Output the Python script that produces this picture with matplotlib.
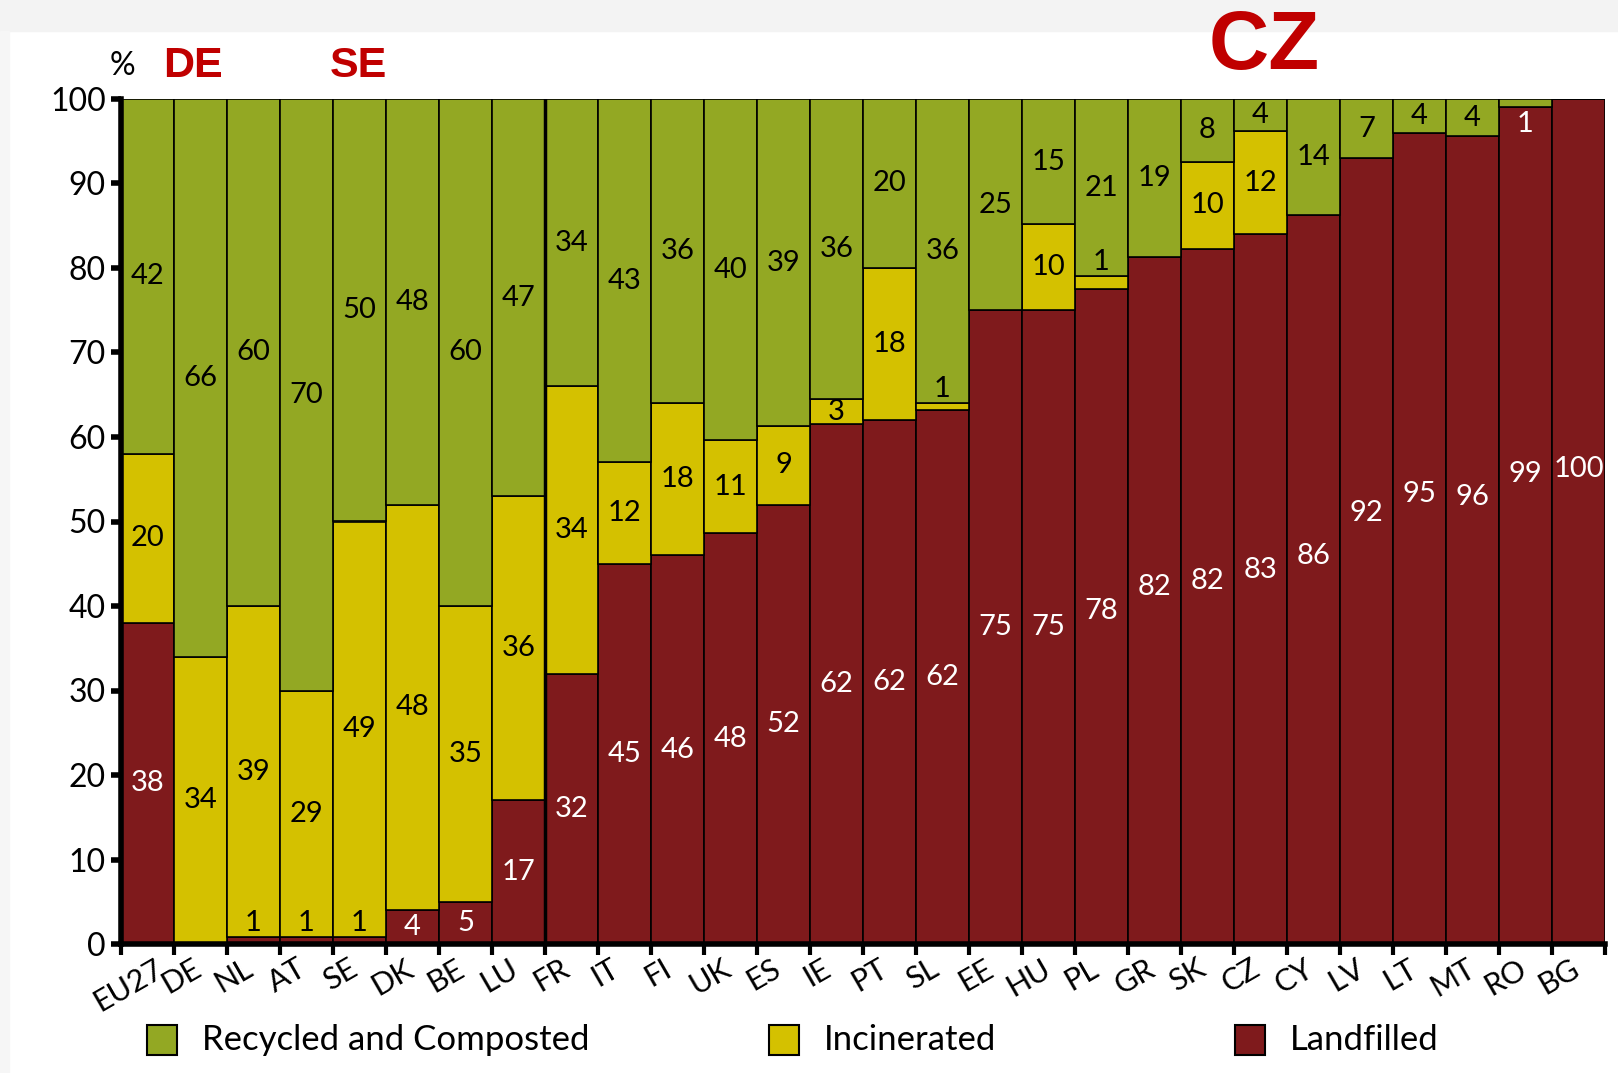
import numpy as np
import matplotlib
matplotlib.use("Agg")
import matplotlib.pyplot as plt
from matplotlib.patches import Rectangle

plt.rcParams['font.family'] = ['Lato', 'DejaVu Sans']

countries = ["EU27", "DE", "NL", "AT", "SE", "DK", "BE", "LU", "FR", "IT", "FI", "UK", "ES", "IE",
             "PT", "SL", "EE", "HU", "PL", "GR", "SK", "CZ", "CY", "LV", "LT", "MT", "RO", "BG"]

# segment heights (bottom to top)
landfilled = [38, 0, 0.8, 0.8, 0.8, 4, 5, 17, 32, 45, 46, 48.6, 52, 61.5,
              62, 63.2, 75, 75, 77.5, 81.3, 82.3, 84, 86.3, 93, 96, 95.6, 99.1, 100]
incinerated = [20, 34, 39.2, 29.2, 49.2, 48, 35, 36, 34, 12, 18, 11, 9.3, 3,
               18, 0.8, 0, 10.2, 1.5, 0, 10.3, 12.2, 0, 0, 0, 0, 0, 0]
recycled = [42, 66, 60, 70, 50, 48, 60, 47, 34, 43, 36, 40.4, 38.7, 35.5,
            20, 36, 25, 14.8, 21, 18.7, 7.4, 3.8, 13.7, 7, 4, 4.4, 0.9, 0]

# printed labels (as in the source chart)
land_lab = ["38", "", "1", "1", "1", "4", "5", "17", "32", "45", "46", "48", "52", "62",
            "62", "62", "75", "75", "78", "82", "82", "83", "86", "92", "95", "96", "99", "100"]
inc_lab = ["20", "34", "39", "29", "49", "48", "35", "36", "34", "12", "18", "11", "9", "3",
           "18", "1", "", "10", "1", "", "10", "12", "", "", "", "", "", ""]
rec_lab = ["42", "66", "60", "70", "50", "48", "60", "47", "34", "43", "36", "40", "39", "36",
           "20", "36", "25", "15", "21", "19", "8", "4", "14", "7", "4", "4", "1", ""]

series = ["Recycled and Composted", "Incinerated", "Landfilled"]
colors = ["#93a823", "#d4c100", "#7f1a1c"]

fig = plt.figure(figsize=(16.18, 10.73), dpi=100)
fig.patches.append(Rectangle((0, 1 - 31 / 1073), 1, 31 / 1073, transform=fig.transFigure,
                             color="#f3f3f3", zorder=0))
fig.patches.append(Rectangle((0, 0), 9 / 1618, 1 - 31 / 1073, transform=fig.transFigure,
                             color="#f6f6f6", zorder=0))

ax = fig.add_axes([121 / 1618, 1 - 944 / 1073, 1484 / 1618, 845 / 1073])
x = np.arange(len(countries))
land = np.array(landfilled)
inc = np.array(incinerated)
rec = np.array(recycled)

ax.bar(x, land, width=1, color=colors[2], edgecolor="black", linewidth=1.2)
ax.bar(x, inc, width=1, bottom=land, color=colors[1], edgecolor="black", linewidth=1.2)
ax.bar(x, rec, width=1, bottom=land + inc, color=colors[0], edgecolor="black", linewidth=1.2)

fs = 21
for i in range(len(countries)):
    segs = [(land[i], 0, land_lab[i], "white"),
            (inc[i], land[i], inc_lab[i], "black"),
            (rec[i], land[i] + inc[i], rec_lab[i], "black")]
    for k, (h, b, lab, c) in enumerate(segs):
        if lab == "":
            continue
        if h >= 3:
            yc = b + h / 2
            # the source nudges labels of tall landfill bars upwards
            if k == 0 and h > 75:
                yc += (h - 75) * 0.25
            ax.text(i, yc, lab, ha="center", va="center", color=c, fontsize=fs)
        elif k == 2:
            # tiny top segment: label inside the bar below
            ax.text(i, b - 0.5, lab, ha="center", va="top", color="white", fontsize=fs)
        else:
            ax.text(i, b + h + 0.2, lab, ha="center", va="bottom", color="black", fontsize=fs)

ax.axvline(7.5, color="black", linewidth=2.5)

ax.set_xlim(-0.5, len(countries) - 0.5)
ax.set_ylim(0, 100)
ax.set_yticks(np.arange(0, 101, 10))
ax.tick_params(axis="y", labelsize=23, width=4, length=7, pad=4)
ax.set_xticks(x - 0.5, minor=False)
ax.set_xticks([len(countries) - 0.5], minor=True)
ax.set_xticklabels([])
ax.tick_params(axis="x", which="both", width=3, length=8)
for i, c in enumerate(countries):
    ax.text(i - 0.37, -1.2, c, rotation=30, ha="center", va="top", fontsize=22)

for s in ["top", "right"]:
    ax.spines[s].set_visible(False)
ax.spines["left"].set_linewidth(4)
ax.spines["bottom"].set_linewidth(4)

fig.text(122 / 1618, 1 - 66 / 1073, "%", ha="center", va="center", fontsize=23)
fig.text(193 / 1618, 1 - 66 / 1073, "DE", ha="center", va="center", fontsize=31,
         fontweight="bold", color="#c00000", family="Liberation Sans")
fig.text(358 / 1618, 1 - 66 / 1073, "SE", ha="center", va="center", fontsize=31,
         fontweight="bold", color="#c00000", family="Liberation Sans")
fig.text(1264 / 1618, 1 - 47 / 1073, "CZ", ha="center", va="center", fontsize=60,
         fontweight="bold", color="#c00000", family="Liberation Sans")

# legend, placed by hand
leg_x = [147, 769, 1235]
for lx, name, col in zip(leg_x, series, colors):
    fig.patches.append(Rectangle((lx / 1618, 1 - 1055 / 1073), 30 / 1618, 30 / 1073,
                                 transform=fig.transFigure, facecolor=col,
                                 edgecolor="black", linewidth=1.5))
    fig.text((lx + 55) / 1618, 1 - 1040 / 1073, name, ha="left", va="center", fontsize=25)

fig.savefig("out.png", dpi=100)
